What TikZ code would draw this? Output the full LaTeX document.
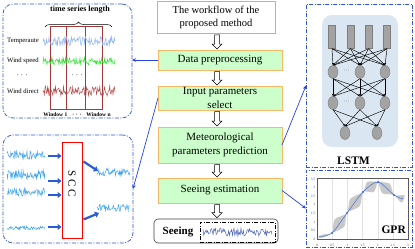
\documentclass[tikz,border=0pt]{standalone}
\usepackage{fontspec}
\setmainfont{Liberation Serif}
\usetikzlibrary{arrows.meta,decorations.pathreplacing,shapes.geometric,calc}
\definecolor{panelblue}{HTML}{2F55D4}
\definecolor{linkblue}{HTML}{2444E6}
\definecolor{fatblue}{HTML}{2A5CD8}
\definecolor{sigblue}{HTML}{3FA4F0}
\definecolor{tempblue}{HTML}{8DB6F2}
\definecolor{speedgreen}{HTML}{33E033}
\definecolor{dirred}{HTML}{B24A4A}
\definecolor{winred}{HTML}{A23A3A}
\definecolor{boxgreen}{HTML}{CCFFCC}
\definecolor{boxorange}{HTML}{F6B968}
\definecolor{titleborder}{HTML}{A8B2D6}
\definecolor{lstmbg}{HTML}{DAE6F2}
\definecolor{nodegray}{HTML}{A3A3A3}
\definecolor{nodeborder}{HTML}{7E7E7E}
\definecolor{bandgray}{HTML}{C8C8C8}
\definecolor{meanblue}{HTML}{3F6FE0}
\definecolor{seeingblue}{HTML}{4A64B8}
\newcommand\noisyline[6]{\draw[#1, line width=0.5pt] plot[domain=#2:#3, samples=#6, variable=\t] (\t,{#4+#5*rand});}
\newcommand\hollowdown[2]{%
  \path[draw=black, fill=white, line width=0.5pt] let \p1=(#1.south), \p2=(#2.north) in
  (214.5pt,\y1-1.5pt) -- (214.5pt,\y2+6pt) -- (212pt,\y2+6pt) -- (217pt,\y2+1pt) -- (222pt,\y2+6pt) -- (219.5pt,\y2+6pt) -- (219.5pt,\y1-1.5pt) -- cycle;}
\tikzset{
  panel/.style={draw=panelblue, line width=0.7pt, dash pattern=on 4pt off 1.5pt on 1pt off 1.5pt, inner sep=0pt, outer sep=0pt},
  stepbox/.style={draw=boxorange, fill=boxgreen, line width=1pt, minimum width=124pt, align=center, font=\fontsize{11}{14}\selectfont, inner sep=0pt, outer sep=0pt},
  link/.style={draw=linkblue, line width=0.7pt, -{Stealth[length=4pt,width=3.5pt]}},
  fat/.style={draw=fatblue, line width=2.2pt, -{Triangle[length=4pt,width=6pt]}},
  lbl/.style={font=\fontsize{6.7}{7}\selectfont, inner sep=0pt},
  tick/.style={font=\fontsize{3.5}{4}\selectfont, inner sep=0pt, text=gray!70!black},
  inbar/.style={draw=nodeborder, fill=nodegray, minimum width=7pt, minimum height=23pt, inner sep=0pt},
  neuron/.style={ellipse, draw=nodeborder, fill=nodegray, minimum width=10pt, minimum height=13pt, inner sep=0pt},
  nnedge/.style={draw=black, line width=0.45pt, -{Latex[length=2.2pt,width=2pt]}}
}
\begin{document}
\begin{tikzpicture}[x=1pt,y=-1pt]
\useasboundingbox (0,0) rectangle (415,249);
\fill[white] (0,0) rectangle (415,249);
\pgfmathsetseed{7}
% ---------- panels
\node[panel, rounded corners=10pt, minimum width=129pt, minimum height=114pt] (tl) at (67.5,61) {};
\node[panel, rounded corners=10pt, minimum width=130pt, minimum height=108pt] (bl) at (68,189) {};
\node[panel, minimum width=106pt, minimum height=163pt] (lp) at (359,85.5) {};
\node[panel, minimum width=106pt, minimum height=77pt] (gp) at (359,208.5) {};
% ---------- top-left: time series windows
\node[font=\bfseries\fontsize{8}{9}\selectfont, inner sep=0pt] (tsl) at (80,10) {time series length};
\draw[decorate, decoration={brace, amplitude=5pt}, line width=0.5pt] (45,27) -- (112,27);
\node[draw=winred, line width=0.8pt, minimum width=52pt, minimum height=83pt, inner sep=0pt] (win) at (76,67.5) {};
\draw[winred, line width=0.8pt] (win.north west) ++(17,0) -- ++(0,83);
\draw[winred, line width=0.8pt] (win.north west) ++(36,0) -- ++(0,83);
\node[lbl, anchor=west] (tmp) at (7,41) {Temperaute};
\node[lbl, anchor=west] (wsp) at (7,61) {Wind speed};
\node[lbl] (dl1) at (22,76) {·\,\,·\,\,·};
\node[lbl] (dl2) at (77,76) {·\,\,·\,\,·};
\node[lbl, anchor=west] (wdr) at (7,91) {Wind direct};
\noisyline{tempblue}{43}{115}{41}{4.5}{110}
\noisyline{speedgreen}{43}{115}{61}{3.5}{110}
\noisyline{dirred}{43}{115}{91}{5}{110}
\node[font=\bfseries\fontsize{5.5}{6}\selectfont, inner sep=0pt] (wl) at (77,115) {Window 1\hspace{5pt}·\,\,·\,\,·\hspace{5pt}Window n};
% ---------- bottom-left: SCC
\node[draw=red, fill=white, line width=1pt, minimum width=20pt, minimum height=96pt, inner sep=0pt] (scc) at (72,190) {};
\node[font=\fontsize{11}{12}\selectfont, rotate=-90, inner sep=0pt] (scct) at (72,184) {S C C};
\noisyline{sigblue}{7}{45}{155}{4}{60}
\noisyline{sigblue}{7}{45}{175}{4.5}{60}
\noisyline{sigblue}{7}{45}{192}{4}{60}
\noisyline{sigblue}{7}{45}{228}{1.8}{60}
\noisyline{sigblue}{97}{130}{172}{4}{55}
\noisyline{sigblue}{97}{130}{208}{3.5}{55}
\coordinate (i1) at (48,156);
\coordinate (i2) at (48,181);
\coordinate (i3) at (48,195);
\coordinate (i4) at (48,227);
\foreach \c in {i1,i2,i3,i4} \draw[fat] (\c) -- (\c -| scc.west);
\coordinate (o1) at (98,171);
\coordinate (o2) at (99,213);
\draw[fat] ($(scc.north east)+(1,20)$) -- (o1);
\draw[fat] ($(scc.north east)+(1,78)$) -- (o2);
% ---------- centre workflow
\node[draw=titleborder, line width=0.6pt, minimum width=118pt, minimum height=32pt, align=center, font=\fontsize{10.5}{13}\selectfont, inner sep=0pt] (title) at (216,17) {The workflow of the\\proposed method};
\node[stepbox, minimum height=20pt] (dp) at (220,60) {Data preprocessing};
\node[stepbox, minimum height=24pt] (ip) at (220,98) {Input parameters\\select};
\node[stepbox, minimum height=36pt] (mp) at (220,145) {Meteorological\\parameters prediction};
\node[stepbox, minimum height=25pt] (se) at (220,190.5) {Seeing estimation};
\node[draw=black!75, line width=0.6pt, rounded corners=4pt, minimum width=124pt, minimum height=24pt, inner sep=0pt] (seeing) at (216,231) {};
\node[font=\bfseries\fontsize{11}{12}\selectfont, inner sep=0pt] (seeingt) at (178,231.5) {Seeing};
\node[draw=black, line width=0.6pt, dash pattern=on 4pt off 1.5pt on 1pt off 1.5pt, minimum width=75pt, minimum height=20pt, inner sep=0pt] (sig) at (237.5,232) {};
\noisyline{seeingblue}{203}{272}{232}{4}{90}
\hollowdown{title}{dp}
\hollowdown{dp}{ip}
\hollowdown{ip}{mp}
\hollowdown{mp}{se}
\hollowdown{se}{seeing}
% ---------- connectors
\draw[link] (dp.west) -- (dp.west -| tl.east);
\draw[link] (ip.west) -- (bl.east);
\draw[link] (mp.east) -- (lp.west);
\draw[link] (se.east) -- (gp.west);
% ---------- LSTM
\node[fill=lstmbg, rounded corners=10pt, minimum width=76pt, minimum height=132pt, inner sep=0pt] (lbg) at (360,81) {};
\node[inbar] (r1) at (332,37) {};
\node[inbar] (r2) at (350.5,37) {};
\node[inbar] (r3) at (368.5,37) {};
\node[inbar] (r4) at (387,37) {};
\node[neuron] (a1) at (333,72) {};
\node[neuron] (a2) at (360,72) {};
\node[neuron] (a3) at (385,72) {};
\node[neuron] (b1) at (333,103) {};
\node[neuron] (b2) at (360,103) {};
\node[neuron] (b3) at (385,103) {};
\node[neuron] (c1) at (345,133) {};
\node[neuron] (c2) at (377,133) {};
\foreach \r in {r1,r2,r3,r4} \foreach \a in {a1,a2,a3} \draw[nnedge] (\r.south) -- (\a.north);
\foreach \a in {a1,a2,a3} \foreach \b in {b1,b2,b3} \draw[nnedge] (\a.south) -- (\b.north);
\foreach \b in {b1,b2,b3} \foreach \c in {c1,c2} \draw[nnedge] (\b.south) -- (\c.north);
\node[font=\fontsize{6}{6}\selectfont, text=black!60, inner sep=0pt] (d1) at (346.5,71) {···};
\node[font=\fontsize{6}{6}\selectfont, text=black!60, inner sep=0pt] (d2) at (346.5,102) {···};
\node[font=\bfseries\fontsize{11.5}{12}\selectfont, inner sep=0pt] (lstmlbl) at (353.5,161) {LSTM};
% ---------- GPR
\foreach \gx in {332.2,347.3,362.5,377.7,392.8} \draw[gray!22, line width=0.4pt] (\gx,178) -- (\gx,239);
\fill[bandgray] plot[smooth cycle, tension=0.45] coordinates {(319,236) (325.5,234) (332,233) (334.7,219.4) (347,213) (350.2,198.9) (363,192) (367.2,182) (378,182) (389.8,183.8) (394,195) (404.6,195.4) (401.4,202.6) (394,195) (382.2,193.2) (378,182) (373.8,192) (363,192) (359.8,206.1) (347,213) (344.3,226.6) (332,233) (325.5,236.5) (319,238)};
\draw[meanblue, line width=0.5pt] plot[smooth, tension=0.5] coordinates {(319,237) (332,233) (347,213) (363,192) (378,182) (394,195) (403,199)};
\foreach \px/\py in {332/233,347/213,363/192,378/182,394/195} \fill[meanblue] (\px,\py) circle (1.1pt);
\draw[gray!70!black, line width=0.5pt] (317,178) rectangle (408,239);
\foreach \v [count=\i from 0] in {0,0.5,1,1.5,2,2.5,3} \node[tick] at ({317+15.17*\i},245) {\v};
\foreach \v [count=\i from 0] in {0,0.5,1,1.5,2,2.5,3,3.5} \node[tick, anchor=east] at (315.5,{239-8.57*\i}) {\v};
\node[font=\bfseries\fontsize{11.5}{12}\selectfont, inner sep=0pt, anchor=base east] (gprlbl) at (406,233) {GPR};
\end{tikzpicture}
\end{document}
